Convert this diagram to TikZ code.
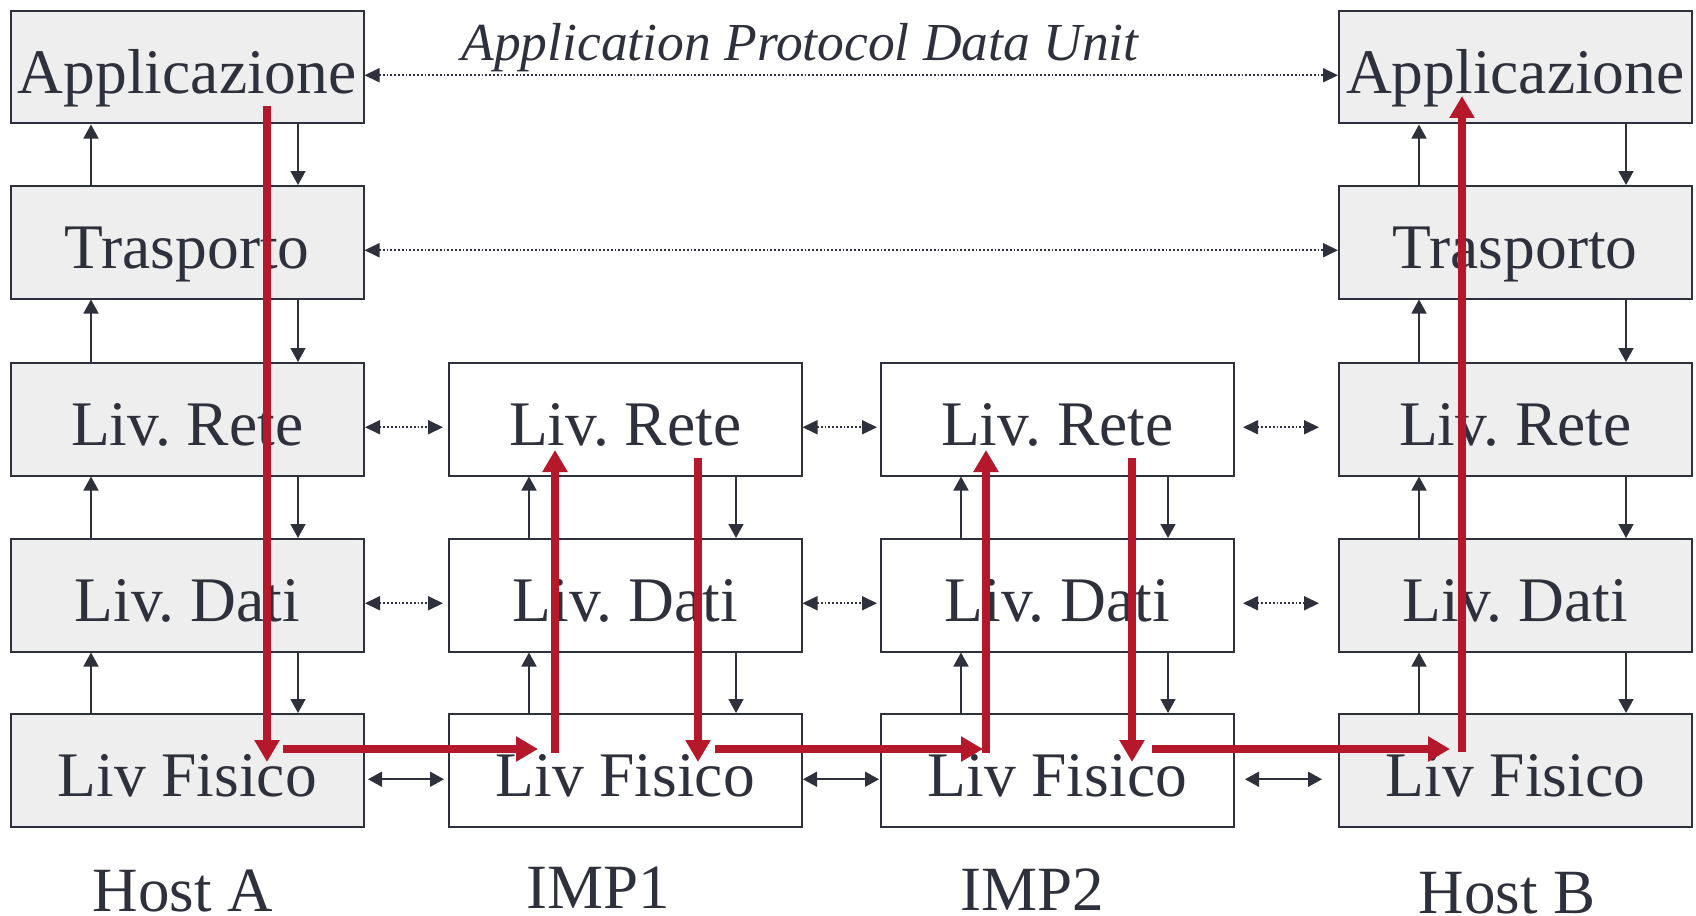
\documentclass[tikz,border=0pt]{standalone}
\usepackage{fontspec}
\setmainfont{Liberation Serif}
\usetikzlibrary{arrows.meta}
\definecolor{ink}{HTML}{2E303C}
\definecolor{boxfill}{HTML}{EEEEEE}
\definecolor{redarrow}{HTML}{B5182B}
\frenchspacing
\begin{document}
\begin{tikzpicture}[x=1pt,y=-1pt,
  layer/.style={draw=ink, line width=2pt, minimum width=352.5pt, minimum height=112.5pt,
    inner sep=0pt, anchor=north west, font=\fontsize{63.5}{63.5}\selectfont, text=ink,
    text height=52pt, text depth=0pt},
  hostlayer/.style={layer, fill=boxfill},
  implayer/.style={layer, fill=white},
  lbl/.style={anchor=base, inner sep=0pt, text=ink, text depth=0pt, font=\fontsize{63}{63}\selectfont},
  vtip/.style={-{Triangle[length=14pt,width=15pt]}},
  blk/.style={draw=ink, line width=1.6pt, vtip},
  dotarr/.style={draw=ink, line width=1.8pt, dash pattern=on 1.8pt off 2pt,
    {Triangle[length=15pt,width=14pt]}-{Triangle[length=15pt,width=14pt]}},
  solarr/.style={draw=ink, line width=1.8pt,
    {Triangle[length=14pt,width=15pt]}-{Triangle[length=14pt,width=15pt]}},
  redarr/.style={draw=redarrow, line width=8pt, -{Triangle[length=22pt,width=24pt]}}
]
\useasboundingbox (0,0) rectangle (1696,915);

% Host A
\node[hostlayer] (A1) at (10,10)  {Applicazione};
\node[hostlayer] (A2) at (10,185) {Trasporto};
\node[hostlayer] (A3) at (10,362) {Liv. Rete};
\node[hostlayer] (A4) at (10,538) {Liv. Dati};
\node[hostlayer] (A5) at (10,713) {Liv Fisico};
% IMP1
\node[implayer] (P3) at (448,362) {Liv. Rete};
\node[implayer] (P4) at (448,538) {Liv. Dati};
\node[implayer] (P5) at (448,713) {Liv Fisico};
% IMP2
\node[implayer] (Q3) at (880,362) {Liv. Rete};
\node[implayer] (Q4) at (880,538) {Liv. Dati};
\node[implayer] (Q5) at (880,713) {Liv Fisico};
% Host B
\node[hostlayer] (B1) at (1338,10)  {Applicazione};
\node[hostlayer] (B2) at (1338,185) {Trasporto};
\node[hostlayer] (B3) at (1338,362) {Liv. Rete};
\node[hostlayer] (B4) at (1338,538) {Liv. Dati};
\node[hostlayer] (B5) at (1338,713) {Liv Fisico};

% labels
\node[anchor=base, inner sep=0pt, text=ink, font=\fontsize{53.5}{53.5}\selectfont\itshape] (apdu) at (800,61) {Application Protocol Data Unit};
\node[lbl] (hA) at (183,911) {Host A};
\node[lbl] (i1) at (598,908) {IMP1};
\node[lbl] (i2) at (1032,910) {IMP2};
\node[lbl] (hB) at (1507,913) {Host B};

% vertical black arrows
\foreach \c in {A,B}{
  \foreach \i/\j in {1/2,2/3,3/4,4/5}{
    \draw[blk] ([xshift=81pt]\c\j.north west) -- ([xshift=81pt]\c\i.south west);
    \draw[blk] ([xshift=288pt]\c\i.south west) -- ([xshift=288pt]\c\j.north west);
  }
}
\foreach \c in {P,Q}{
  \foreach \i/\j in {3/4,4/5}{
    \draw[blk] ([xshift=81pt]\c\j.north west) -- ([xshift=81pt]\c\i.south west);
    \draw[blk] ([xshift=288pt]\c\i.south west) -- ([xshift=288pt]\c\j.north west);
  }
}

% horizontal peer arrows
\draw[dotarr] ([yshift=-8pt]A1.east) -- ([yshift=-8pt]B1.west);
\draw[dotarr] ([yshift=-8pt]A2.east) -- ([yshift=-8pt]B2.west);
\foreach \r in {3,4}{
  \draw[dotarr] ([xshift=0.5pt,yshift=-8pt]A\r.east) -- ([xshift=-5pt,yshift=-8pt]P\r.west);
  \draw[dotarr] ([xshift=0pt,yshift=-8pt]P\r.east) -- ([xshift=-3pt,yshift=-8pt]Q\r.west);
  \draw[dotarr] ([xshift=8.5pt,yshift=-8pt]Q\r.east) -- ([xshift=-19pt,yshift=-8pt]B\r.west);
}
\draw[solarr] ([xshift=3.5pt,yshift=-9pt]A5.east) -- ([xshift=-4pt,yshift=-9pt]P5.west);
\draw[solarr] ([xshift=0.5pt,yshift=-9pt]P5.east) -- ([xshift=-1pt,yshift=-9pt]Q5.west);
\draw[solarr] ([xshift=10.5pt,yshift=-9pt]Q5.east) -- ([xshift=-16pt,yshift=-9pt]B5.west);

% red data path
\coordinate (r1s) at (267,106);  \coordinate (r1e) at (267,762);
\coordinate (r2s) at (283,749);  \coordinate (r2e) at (538,749);
\coordinate (r3s) at (555,753);  \coordinate (r3e) at (555,450);
\coordinate (r4s) at (698,458);  \coordinate (r4e) at (698,762);
\coordinate (r5s) at (715,749);  \coordinate (r5e) at (983,749);
\coordinate (r6s) at (986,753);  \coordinate (r6e) at (986,450);
\coordinate (r7s) at (1132,458); \coordinate (r7e) at (1132,762);
\coordinate (r8s) at (1152,749); \coordinate (r8e) at (1450,749);
\coordinate (r9s) at (1462,752); \coordinate (r9e) at (1462,96);
\foreach \k in {1,...,9}{
  \draw[redarr] (r\k s) -- (r\k e);
}
\end{tikzpicture}
\end{document}
